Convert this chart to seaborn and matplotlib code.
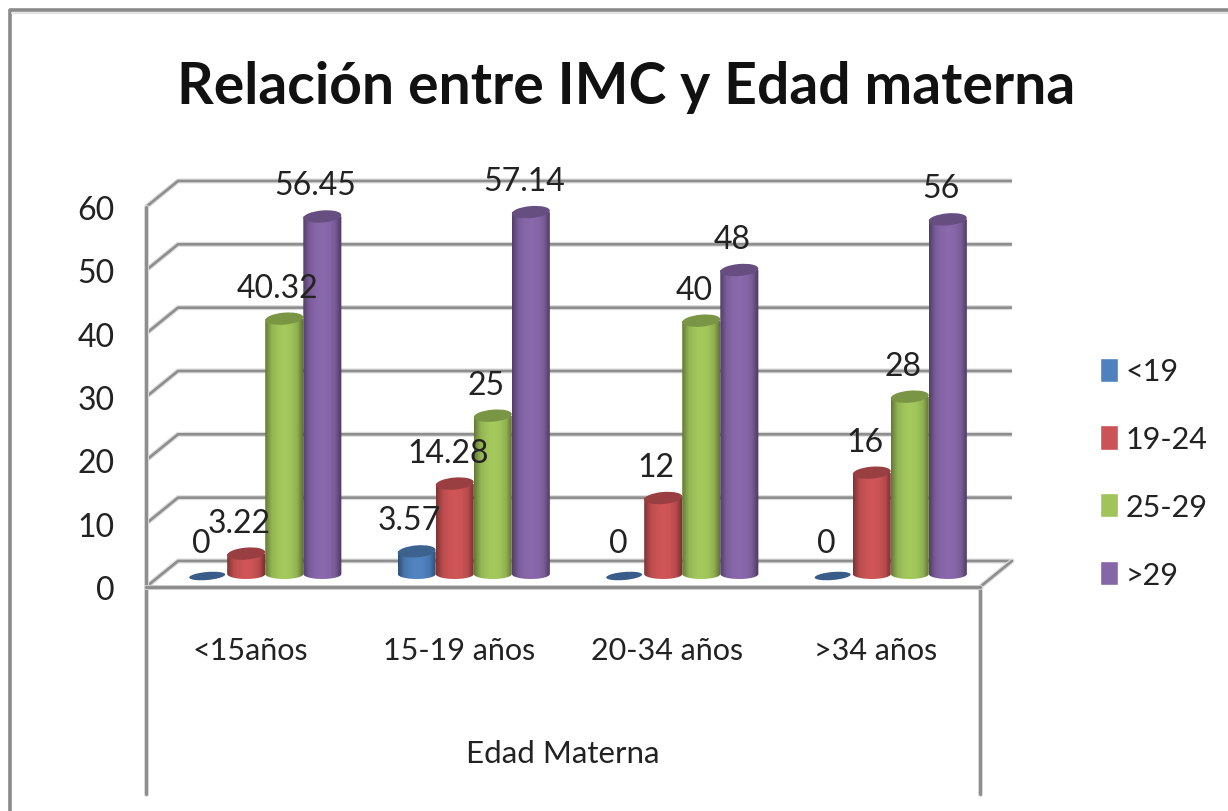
import numpy as np
import pandas as pd
import matplotlib
matplotlib.use("Agg")
import matplotlib.pyplot as plt
import matplotlib.patheffects as pe
import seaborn as sns
from matplotlib.colors import LinearSegmentedColormap, to_rgb
from matplotlib.lines import Line2D
from matplotlib.patches import Ellipse
from matplotlib.path import Path
from matplotlib.transforms import IdentityTransform

# Datos
edades = ["<15años", "15-19 años", "20-34 años", ">34 años"]
grupos_imc = ["<19", "19-24", "25-29", ">29"]
imc_bajo = [0, 3.57, 0, 0]
imc_normal = [3.22, 14.28, 12, 16]
imc_sobrepeso = [40.32, 25, 40, 28]
imc_obesidad = [56.45, 57.14, 48, 56]
ticks_y = [0, 10, 20, 30, 40, 50, 60]
colores = ["#4F81BD", "#CB5355", "#A0C45A", "#8666A8"]

W, H = 1228, 812
GRIS = "#8e8e8e"
TEXTO = "#222222"


def caja(left, right, top, bottom):
    return [left / W, 1 - bottom / H, (right - left) / W, (bottom - top) / H]


def oscurecer(color, f):
    return tuple(c * f for c in to_rgb(color))


sns.set_theme(style="white")
plt.rcParams["font.family"] = ["Lato", "DejaVu Sans"]

df = pd.DataFrame({
    "edad": edades * 4,
    "imc": np.repeat(grupos_imc, 4),
    "valor": imc_bajo + imc_normal + imc_sobrepeso + imc_obesidad,
})

fig = plt.figure(figsize=(W / 100, H / 100), dpi=100, facecolor="white")

# Marco exterior (solo se ven arriba e izquierda)
fig.add_artist(Line2D([9.5 / W, 9.5 / W, 1], [0, 1 - 11 / H, 1 - 11 / H], color="#8a8a8a", lw=2.6))
fig.add_artist(Line2D([12 / W, 1], [1 - 14 / H, 1 - 14 / H], color="#e4e4e4", lw=1.5))

# Plano frontal: paredes, ejes y etiquetas
pared = fig.add_axes(caja(146, 980, 208, 588))
pared.set_xlim(-0.5, 3.5)
pared.set_ylim(0, 60)
halo = [pe.withStroke(linewidth=3.6, foreground="#dcdcdc")]
dx, dy = 32 / 208.5, 26 / 6.33
for t in ticks_y:
    pared.plot([-0.5, -0.5 + dx, 3.5 + dx], [t, t + dy, t + dy], color=GRIS, lw=1.9,
               clip_on=False, path_effects=halo, solid_capstyle="butt")
pared.plot([3.5, 3.5 + dx], [0, dy], color=GRIS, lw=1.9, clip_on=False, path_effects=halo)
# lineas que bajan hasta el borde de la tabla
pared.plot([-0.5, -0.5], [60, -32.7], color=GRIS, lw=2.2, clip_on=False, path_effects=halo)
pared.plot([3.5, 3.5], [0, -32.7], color=GRIS, lw=2.2, clip_on=False, path_effects=halo)
pared.plot([-0.5, 3.5], [0, 0], color=GRIS, lw=2.4, clip_on=False, path_effects=halo)
sns.despine(ax=pared, left=True, bottom=True)
pared.set_xticks(range(4), edades)
pared.set_yticks(ticks_y)
pared.tick_params(axis="y", length=0, pad=22.5, labelsize=23, labelcolor=TEXTO)
pared.tick_params(axis="x", length=0, pad=35, labelsize=22, labelcolor=TEXTO)
pared.set_xlabel("Edad Materna", fontsize=22.5, color=TEXTO, labelpad=54)
pared.set_ylabel("")

# Plano de las barras, desplazado hacia el fondo
ax = fig.add_axes(caja(161, 995, 195, 575), zorder=3)
ax.patch.set_alpha(0)
sns.barplot(data=df, x="edad", y="valor", hue="imc", hue_order=grupos_imc, order=edades,
            palette=colores, width=0.73, gap=0, saturation=1, ax=ax, legend=True)
ax.set_xlim(-0.5, 3.5)
ax.set_ylim(0, 60)
handles, labels = ax.get_legend_handles_labels()
ax.get_legend().remove()

for k, (contenedor, color) in enumerate(zip(ax.containers, colores)):
    cmap = LinearSegmentedColormap.from_list("cil", [
        oscurecer(color, 0.62), oscurecer(color, 0.92), color,
        oscurecer(color, 1.03), color, oscurecer(color, 0.9), oscurecer(color, 0.55)])
    for barra in contenedor:
        v = barra.get_height()
        x0, x1 = barra.get_x(), barra.get_x() + barra.get_width()
        (px0, py_top), (px1, _) = ax.transData.transform([(x0, v), (x1, v)])
        _, py_base = ax.transData.transform((x0, 0))
        cx, ancho = (px0 + px1) / 2, px1 - px0
        barra.set_visible(False)
        if v > 0:
            t = np.linspace(np.pi, 2 * np.pi, 30)
            verts = [(px0, py_top)] + [(cx + ancho / 2 * np.cos(a), py_base + 5 * np.sin(a)) for a in t] + [(px1, py_top)]
            im = ax.imshow(np.linspace(0, 1, 64).reshape(1, -1), extent=[x0, x1, -1.5, v], aspect="auto",
                           cmap=cmap, zorder=2 + k, interpolation="bilinear")
            im.set_clip_box(fig.bbox)
            im.set_clip_path(Path(verts + [verts[0]], closed=True), IdentityTransform())
            ax.add_patch(Ellipse((cx, py_top), ancho, 12, angle=5, transform=IdentityTransform(),
                                 facecolor=oscurecer(color, 0.76), edgecolor="none", zorder=2 + k, clip_on=False))
        else:
            ax.add_patch(Ellipse((cx - 1, py_base - 2), ancho - 2, 8, angle=5, transform=IdentityTransform(),
                                 facecolor=oscurecer(color, 0.72), edgecolor="none", zorder=2 + k, clip_on=False))
        ax.annotate(f"{v:g}", xy=((x0 + x1) / 2, v), xytext=(-7, 31), textcoords="offset pixels",
                    ha="center", va="center", fontsize=23, color=TEXTO, zorder=10, annotation_clip=False)

ax.set_xlim(-0.5, 3.5)
ax.set_ylim(0, 60)
ax.axis("off")

fig.text(626 / W, 1 - 87 / H, "Relación entre IMC y Edad materna", ha="center", va="center",
         fontsize=41, fontweight="bold", color="#111111")

fig.legend(handles, labels, loc="center left", bbox_to_anchor=(1100 / W, 1 - 474 / H), frameon=False,
           fontsize=22, labelcolor=TEXTO, handlelength=0.6, handleheight=0.85, handletextpad=0.25,
           labelspacing=1.3, borderpad=0, borderaxespad=0)

fig.savefig("out.png", dpi=100)
